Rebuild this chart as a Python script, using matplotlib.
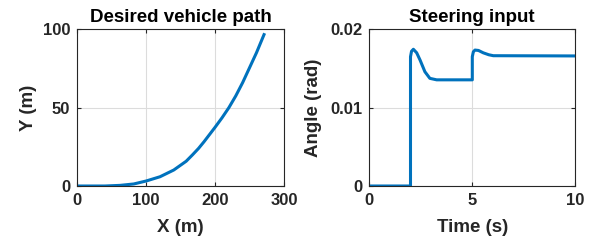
import matplotlib
matplotlib.use("Agg")
import matplotlib.pyplot as plt

plt.rcParams['font.family'] = ['Liberation Sans', 'DejaVu Sans']
plt.rcParams['font.weight'] = 'bold'

# Desired vehicle path
path_x = [0, 40, 62, 82, 100, 120, 140, 158, 167, 176, 184, 200, 210, 220, 230, 240, 250, 260, 271]
path_y = [0, 0, 0.4, 1.3, 3.2, 5.9, 10.2, 15.8, 19.8, 24, 28.3, 37.5, 43.5, 50, 57.5, 66, 75.5, 85, 96.6]

# Steering input
time_s = [0, 2, 2, 2.05, 2.14, 2.3, 2.46, 2.7, 2.94, 3.27, 5, 5, 5.05, 5.13, 5.3, 5.53, 5.8, 6.02, 10]
angle = [0, 0, 0.0165, 0.0172, 0.01745, 0.0170, 0.0161, 0.01458, 0.01374, 0.01355, 0.01355,
         0.0165, 0.01712, 0.01735, 0.0173, 0.01700, 0.01675, 0.01663, 0.01660]

blue = '#0072BD'
axc = '#262626'

fig = plt.figure(figsize=(5.97, 2.43), dpi=100)
W, H = 597, 243
ax1 = fig.add_axes([77.3 / W, 1 - 186 / H, (284 - 77.3) / W, (186 - 29.3) / H])
ax2 = fig.add_axes([369.3 / W, 1 - 186 / H, (575.3 - 369.3) / W, (186 - 29.3) / H])

def style(ax):
    ax.grid(True, color='#dcdcdc', linewidth=0.8)
    ax.set_axisbelow(True)
    ax.tick_params(direction='in', top=True, right=True, length=3, width=0.8,
                   colors=axc, labelsize=12, pad=5)
    for lab in ax.get_xticklabels() + ax.get_yticklabels():
        lab.set_fontweight('bold')
    for s in ax.spines.values():
        s.set_color(axc)
        s.set_linewidth(0.8)

ax1.plot(path_x, path_y, color=blue, linewidth=2.2)
ax1.set_xlim(0, 300)
ax1.set_ylim(0, 100)
ax1.set_xticks([0, 100, 200, 300])
ax1.set_yticks([0, 50, 100])
style(ax1)
ax1.set_xlabel('X (m)', fontsize=13.5, fontweight='bold', color=axc, labelpad=8)
ax1.set_ylabel('Y (m)', fontsize=13.5, fontweight='bold', color=axc, labelpad=4)
ax1.set_title('Desired vehicle path', fontsize=13.5, fontweight='bold', color='black', pad=5)

ax2.plot(time_s, angle, color=blue, linewidth=2.2)
ax2.set_xlim(0, 10)
ax2.set_ylim(0, 0.02)
ax2.set_xticks([0, 5, 10])
ax2.set_yticks([0, 0.01, 0.02])
ax2.set_yticklabels(['0', '0.01', '0.02'])
style(ax2)
ax2.set_xlabel('Time (s)', fontsize=13.5, fontweight='bold', color=axc, labelpad=8)
ax2.set_ylabel('Angle (rad)', fontsize=13.5, fontweight='bold', color=axc, labelpad=6)
ax2.set_title('Steering input', fontsize=13.5, fontweight='bold', color='black', pad=5)

fig.savefig('out.png', dpi=100)
